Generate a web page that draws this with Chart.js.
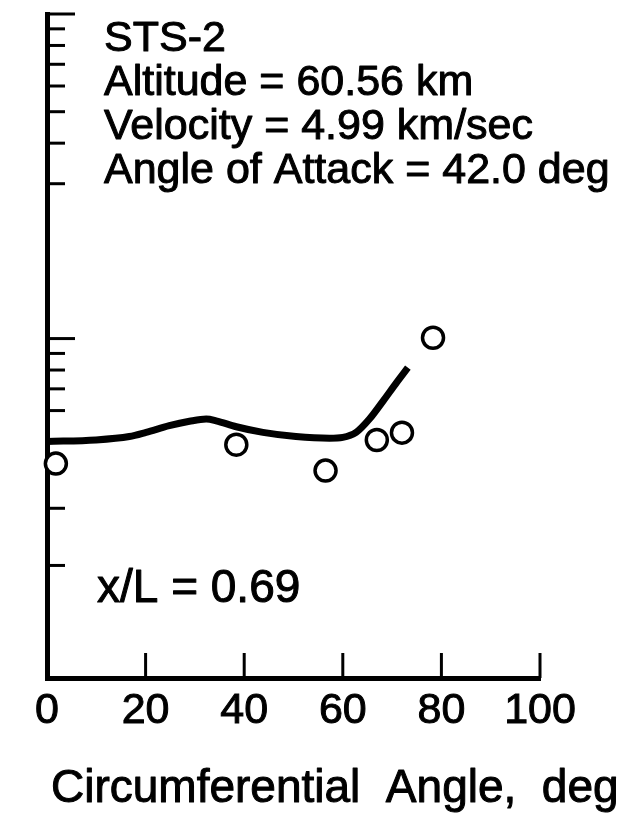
<!DOCTYPE html>
<html lang="en">
<head>
<meta charset="UTF-8">
<title>STS-2 circumferential distribution, x/L = 0.69</title>
<script src="https://cdn.jsdelivr.net/npm/chart.js"></script>
<style>
  html, body { margin: 0; padding: 0; background: #fff; }
  #chart { display: block; }
</style>
</head>
<body>
<canvas id="chart" width="618" height="813"></canvas>
<script>
// open circles: flight data (circumferential angle in deg, value on log axis)
const flightAngles = [1.8, 38.4, 56.5, 66.9, 72.0, 78.3];
const flightValues = [0.0412, 0.0471, 0.0392, 0.0487, 0.0513, 0.1006];

// solid curve
const curveAngles = [0, 9.9, 16.7, 20.1, 24.8, 28.9, 32.3, 34.3, 38.4, 43.8, 50.5, 57.3, 60.0, 62.7, 65.4, 68.2, 70.9, 73.2];
const curveValues = [0.0482, 0.0487, 0.0499, 0.0514, 0.0539, 0.0556, 0.0565, 0.0558, 0.0535, 0.0514, 0.0499, 0.0493, 0.0496, 0.0514, 0.0565, 0.0643, 0.0732, 0.0814];

// axis ticks
const xTicks = [0, 20, 40, 60, 80, 100];
const yMajorTicks = [1, 0.1];
const yMinorTicks = [0.9, 0.8, 0.7, 0.6, 0.5, 0.4, 0.3, 0.09, 0.08, 0.07, 0.06, 0.03, 0.02];

const infoLines = ['STS-2', 'Altitude = 60.56 km', 'Velocity = 4.99 km/sec', 'Angle of Attack = 42.0 deg'];
const stationLabel = 'x/L = 0.69';
const xTitle = 'Circumferential  Angle,  deg';

const FONT = '"Liberation Sans", Arial, Helvetica, sans-serif';

// inward tick marks, the text block and the axis title
const tickMarks = {
    id: 'tickMarks',
    afterDatasetsDraw(chart) {
        const { ctx, chartArea, scales: { x, y } } = chart;
        ctx.save();
        ctx.strokeStyle = '#000';
        ctx.lineWidth = 3;
        const seg = (x1, y1, x2, y2) => {
            ctx.beginPath();
            ctx.moveTo(x1, y1);
            ctx.lineTo(x2, y2);
            ctx.stroke();
        };
        yMajorTicks.forEach(v => {
            const py = y.getPixelForValue(v);
            seg(chartArea.left, py, chartArea.left + 28, py);
        });
        yMinorTicks.forEach(v => {
            const py = y.getPixelForValue(v);
            seg(chartArea.left, py, chartArea.left + 18, py);
        });
        xTicks.slice(1).forEach(v => {
            const px = x.getPixelForValue(v);
            seg(px, chartArea.bottom, px, chartArea.bottom - 25);
        });

        // scanned lettering is a bit heavier than plain Arial
        ctx.fillStyle = '#000';
        ctx.lineWidth = 1;
        ctx.lineJoin = 'round';
        ctx.textAlign = 'left';
        ctx.textBaseline = 'alphabetic';
        const text = (t, px, py) => {
            ctx.fillText(t, px, py);
            ctx.strokeText(t, px, py);
        };
        ctx.font = '43px ' + FONT;
        infoLines.forEach((t, i) => text(t, 104, 51 + i * 44));
        ctx.font = '46px ' + FONT;
        text(stationLabel, 97, 602);
        ctx.font = '46px ' + FONT;
        text(xTitle, chartArea.left + 4, chartArea.bottom + 124);
        ctx.restore();
    }
};

new Chart(document.getElementById('chart'), {
    type: 'scatter',
    data: {
        datasets: [
            {
                label: 'Flight',
                data: flightAngles.map((a, i) => ({ x: a, y: flightValues[i] })),
                pointRadius: 10.5,
                pointBorderWidth: 3.5,
                pointBackgroundColor: '#fff',
                pointBorderColor: '#000',
                showLine: false,
                clip: false,
                order: 1
            },
            {
                label: 'Curve',
                data: curveAngles.map((a, i) => ({ x: a, y: curveValues[i] })),
                showLine: true,
                borderColor: '#000',
                borderWidth: 7,
                pointRadius: 0,
                cubicInterpolationMode: 'monotone',
                clip: false,
                order: 2
            }
        ]
    },
    options: {
        responsive: false,
        animation: false,
        devicePixelRatio: 1,
        layout: { padding: { left: 0, top: 12, right: 78, bottom: 0 } },
        plugins: {
            legend: { display: false },
            tooltip: { enabled: false }
        },
        scales: {
            x: {
                type: 'linear',
                min: 0,
                max: 100,
                afterBuildTicks: s => { s.ticks = xTicks.map(v => ({ value: v })); },
                grid: { display: false, drawTicks: false },
                border: { display: true, color: '#000', width: 5 },
                ticks: {
                    color: '#000',
                    padding: 7,
                    maxRotation: 0,
                    autoSkip: false,
                    textStrokeColor: '#000',
                    textStrokeWidth: 1,
                    font: { family: FONT, size: 43 }
                },
                title: { display: false },
                afterFit: s => { s.height = 135; }
            },
            y: {
                type: 'logarithmic',
                min: 0.009,
                max: 1,
                grid: { display: false, drawTicks: false },
                border: { display: true, color: '#000', width: 5 },
                ticks: { display: false },
                afterFit: s => { s.width = 47; }
            }
        }
    },
    plugins: [tickMarks]
});
</script>
</body>
</html>
